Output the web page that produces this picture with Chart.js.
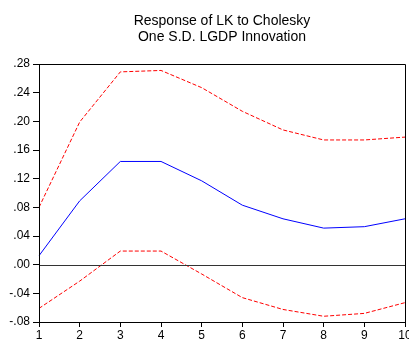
<!DOCTYPE html>
<html>
<head>
<meta charset="utf-8">
<script src="https://cdn.jsdelivr.net/npm/chart.js@4/dist/chart.umd.min.js"></script>
<style>
  html, body { margin: 0; padding: 0; background: #fff; }
  #wrap { width: 409px; height: 339px; }
</style>
</head>
<body>
<div id="wrap"><canvas id="c" width="409" height="339"></canvas></div>
<script>
const periods = ['1','2','3','4','5','6','7','8','9','10'];
const response = [0.0125, 0.089, 0.144, 0.144, 0.117, 0.083, 0.064, 0.051, 0.053, 0.064];
const upperBand = [0.080, 0.199, 0.269, 0.271, 0.247, 0.214, 0.188, 0.174, 0.174, 0.178];
const lowerBand = [-0.061, -0.023, 0.019, 0.019, -0.013, -0.046, -0.0625, -0.072, -0.068, -0.053];
const titleLines = ['Response of LK to Cholesky', 'One S.D. LGDP Innovation'];
const yMin = -0.08, yMax = 0.28, yStep = 0.04;

Chart.defaults.font.family = "'Liberation Sans', Arial, sans-serif";
Chart.defaults.color = '#000';

function fmt(v) {
  const r = Math.round(v * 100) / 100;
  let s = Math.abs(r).toFixed(2).replace(/^0/, '');
  return (r < 0 ? '-' : '') + s;
}

const framePlugin = {
  id: 'frame',
  afterDatasetsDraw(chart) {
    const { ctx, chartArea: a, scales } = chart;
    ctx.save();
    // zero line
    const y0 = Math.round(scales.y.getPixelForValue(0)) + 0.5;
    ctx.strokeStyle = '#333';
    ctx.lineWidth = 1;
    ctx.beginPath();
    ctx.moveTo(a.left, y0);
    ctx.lineTo(a.right, y0);
    ctx.stroke();
    // box
    ctx.strokeStyle = '#000';
    ctx.beginPath();
    ctx.rect(Math.round(a.left) + 0.5, Math.round(a.top) + 0.5, Math.round(a.right - a.left), Math.round(a.bottom - a.top));
    ctx.stroke();
    ctx.restore();
  }
};

new Chart(document.getElementById('c'), {
  type: 'line',
  data: {
    labels: periods,
    datasets: [
      { data: upperBand, borderColor: '#ff0000', borderWidth: 1, borderDash: [4, 2], pointRadius: 0, tension: 0, fill: false },
      { data: response, borderColor: '#0000ff', borderWidth: 1, pointRadius: 0, tension: 0, fill: false },
      { data: lowerBand, borderColor: '#ff0000', borderWidth: 1, borderDash: [4, 2], pointRadius: 0, tension: 0, fill: false }
    ]
  },
  options: {
    responsive: false,
    animation: false,
    events: [],
    layout: { padding: { top: 0, left: 0, right: 4, bottom: 0 } },
    plugins: {
      legend: { display: false },
      tooltip: { enabled: false },
      title: {
        display: true,
        text: titleLines,
        fullSize: false,
        color: '#000',
        font: { size: 14, weight: 'normal', lineHeight: 16 / 14 },
        padding: { top: 13, bottom: 19 }
      }
    },
    scales: {
      x: {
        type: 'category',
        offset: false,
        grid: { display: true, drawOnChartArea: false, drawTicks: true, tickLength: 5, color: '#000' },
        border: { display: true, color: '#000' },
        ticks: { padding: 1, font: { size: 12 }, color: '#000', maxRotation: 0, autoSkip: false },
        afterFit(s) { s.height = 17; s.paddingLeft = 0; s.paddingRight = 0; }
      },
      y: {
        min: yMin,
        max: yMax,
        grid: { display: true, drawOnChartArea: false, drawTicks: true, tickLength: 6, color: '#000' },
        border: { display: true, color: '#000' },
        ticks: { stepSize: yStep, padding: 3, font: { size: 12 }, color: '#000', callback: (v) => fmt(v) },
        afterFit(s) { s.width = 39; s.paddingTop = 0; s.paddingBottom = 0; }
      }
    }
  },
  plugins: [framePlugin]
});
</script>
</body>
</html>
